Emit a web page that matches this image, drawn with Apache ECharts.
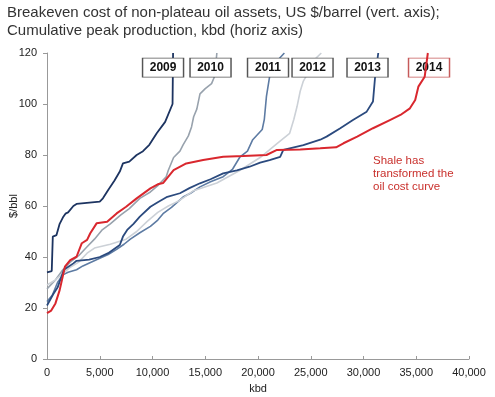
<!DOCTYPE html>
<html><head><meta charset="utf-8">
<script src="https://cdn.jsdelivr.net/npm/echarts@6/dist/echarts.min.js"></script>
<style>html,body{margin:0;padding:0;background:#fff}#c{width:495px;height:397px}</style>
</head><body><div id="c"></div>
<script>
// [kbd, $/bbl]
const s2009 = [[0,34],[450,34.5],[550,48],[900,48.6],[1200,53],[1550,55.8],[1750,57],[2000,57.5],[2500,60],[2800,60.8],[5000,61.7],[5300,63],[5800,66.3],[6400,70],[6900,73.5],[7200,76.7],[7800,77.4],[8500,80],[9100,81.5],[9700,84],[10400,88.5],[11200,93],[11900,100],[11950,120]];
const s2010 = [[0,27.5],[800,31],[1500,35],[2200,38],[3000,40.5],[3800,44],[4500,47],[5200,50.5],[6000,53],[7000,56.5],[7800,59],[8800,63],[9800,65.5],[10500,68],[11300,71.5],[11500,74],[12000,79],[12600,81.5],[12900,84],[13400,87.5],[13700,91],[13900,95],[14200,98],[14500,104],[15000,106],[15600,108],[15900,111],[16100,120]];
const s2011 = [[0,22.5],[500,25],[1000,30],[1500,33],[2000,34],[2800,35],[3400,36.5],[5000,39.5],[5800,41],[6600,43],[7300,45],[7900,47],[8800,49.5],[9800,52],[10500,54.5],[11000,57],[11800,59.5],[12900,63.5],[13600,65],[14500,67.5],[15500,69.5],[16700,71.5],[17600,74.5],[18300,79.3],[19000,81.5],[19500,86],[20400,90],[20600,94],[20800,103],[21100,110.7],[21600,116],[22500,120]];
const s2012 = [[0,29],[800,31],[1500,33.5],[2200,36],[3000,38],[3800,41.5],[4500,43.5],[6000,45],[7500,47],[8500,50],[9500,54],[10500,57.5],[11500,60],[12500,62],[13900,66],[16100,69],[18300,74],[20200,79],[21800,84.5],[23000,88.5],[23400,94],[23700,99],[24000,105],[24300,109],[25000,114],[25500,118],[26000,120]];
const s2013 = [[0,21],[600,25.5],[1000,28],[1600,35],[2500,37.5],[2800,38.5],[4000,39],[5000,40],[5800,41.5],[6900,44.7],[7200,48],[7600,50.6],[8200,53],[8800,55.8],[9800,59.7],[10500,61.5],[11400,63.6],[12600,65],[13500,67],[14500,68.9],[15500,70.5],[16700,72.8],[18000,74],[19200,75.4],[20200,77],[21100,78],[22100,79.3],[22400,82],[24300,83.9],[25900,86],[26500,87.2],[27800,90.5],[29000,93.7],[30300,97],[30900,101],[31100,110.7],[31400,120]];
const s2014 = [[0,18],[400,19],[800,21.8],[1200,27],[1700,36.2],[2200,38.8],[2800,40.1],[3300,45.4],[3800,46.7],[4100,49.3],[4700,53.2],[5700,53.8],[6600,57.1],[7500,59.7],[8500,63],[9800,66.9],[10500,68.5],[11000,69],[12000,74.1],[13200,76.7],[14800,78],[16700,79.3],[18600,79.6],[20800,80],[21800,82],[24000,82.2],[25900,82.6],[27400,83],[28100,84.6],[29400,87.2],[30900,90.5],[32500,93.7],[33500,95.7],[34400,98.3],[34900,101.6],[35200,106.8],[35800,110.7],[36100,120]];
const years = ['2009','2010','2011','2012','2013','2014'];
const labelKbd = [11000,15500,20950,25170,30380,36210];
const labelPrice = 114.3;

const seriesData = [s2009,s2010,s2011,s2012,s2013,s2014];
const colors = ['#1d3461','#98a2ad','#5d7ba3','#ccd1d7','#2b4a7e','#d9272e'];
const widths = [1.8,1.6,1.6,1.6,1.8,2];
const boxBorders = ['#555','#555','#555','#555','#555','#c65a5a'];
const font = 'Liberation Sans, Arial, sans-serif';

const chart = echarts.init(document.getElementById('c'), null, {renderer:'canvas'});
const series = seriesData.map((d,i)=>({
  type:'line', name:years[i], data:d, showSymbol:false, symbol:'none',
  lineStyle:{color:colors[i], width:widths[i]}, z: i===5 ? 5 : 2+i*0.1,
  markPoint:{
    symbol:'rect', symbolSize:[41,19], silent:true,
    itemStyle:{color:'#fff', borderColor:boxBorders[i], borderWidth:1},
    label:{show:true, formatter:years[i], color:'#111', fontWeight:'bold', fontSize:12, fontFamily:font},
    data:[{coord:[labelKbd[i], labelPrice]}]
  }
}));

chart.setOption({
  animation:false,
  title:{text:'Breakeven cost of non-plateau oil assets, US $/barrel (vert. axis);\nCumulative peak production, kbd (horiz axis)',
    left:7, top:4, padding:0, textStyle:{fontSize:15, fontWeight:'normal', color:'#333', fontFamily:font, lineHeight:18}},
  grid:{left:47, right:26, top:53, bottom:38, containLabel:false, outerBoundsMode:'none'},
  xAxis:{type:'value', min:0, max:40000, interval:5000, name:'kbd', nameLocation:'middle', nameGap:24, nameMoveOverlap:false,
    nameTextStyle:{fontSize:11, color:'#222', fontFamily:font},
    axisLine:{lineStyle:{color:'#999'}}, axisTick:{show:true, inside:true, length:3, lineStyle:{color:'#999'}},
    splitLine:{show:false},
    axisLabel:{fontSize:11, color:'#222', fontFamily:font, margin:8,
      formatter:v=>v.toLocaleString('en-US')}},
  yAxis:{type:'value', min:0, max:120, interval:20, name:'$/bbl', nameLocation:'middle', nameGap:28, nameRotate:90, nameMoveOverlap:false,
    nameTextStyle:{fontSize:11, color:'#222', fontFamily:font},
    axisLine:{show:true, lineStyle:{color:'#999'}}, axisTick:{show:true, length:4, lineStyle:{color:'#999'}},
    splitLine:{show:false},
    axisLabel:{fontSize:11, color:'#222', fontFamily:font, margin:10}},
  graphic:[{type:'text', left:373, top:154,
    style:{text:'Shale has\ntransformed the\noil cost curve', fill:'#c9302c', font:'11.5px '+font, lineHeight:13}}],
  series
});
</script></body></html>
